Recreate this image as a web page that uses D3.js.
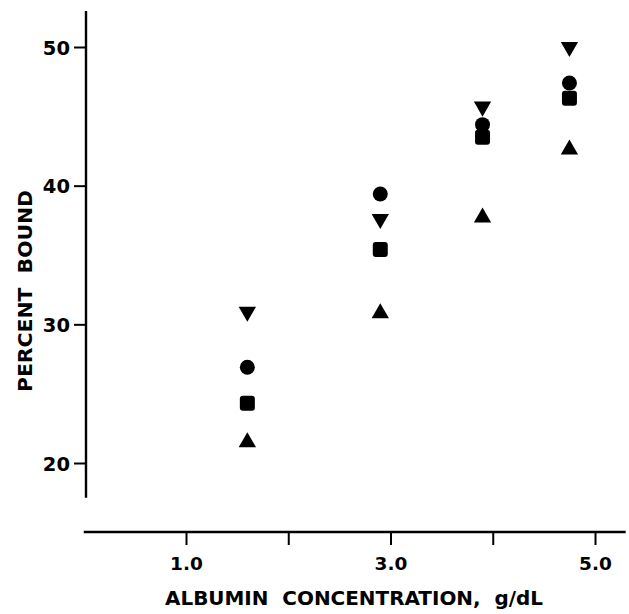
<!DOCTYPE html>
<html>
<head>
<meta charset="utf-8">
<script src="https://cdn.jsdelivr.net/npm/d3@7"></script>
<style>
  html, body { margin: 0; padding: 0; background: #fff; }
  svg { display: block; }
  text { font-family: "DejaVu Sans", sans-serif; font-weight: bold; fill: #000; }
</style>
</head>
<body>
<svg id="chart" width="629" height="614"></svg>
<script>
// Albumin concentration (g/dL) at which binding was measured
const albumin = [1.6, 2.9, 3.9, 4.75];

// Percent bound, one array per plotted symbol
const circleSeries = [26.9, 39.4, 44.4, 47.4];
const downTriangleSeries = [30.9, 37.6, 45.7, 50.0];
const squareSeries = [24.3, 35.4, 43.5, 46.3];
const upTriangleSeries = [21.5, 30.8, 37.7, 42.6];

// Axis ticks
const xTicks = [1, 2, 3, 4, 5];
const xTickLabels = ["1.0", "", "3.0", "", "5.0"];
const yTicks = [20, 30, 40, 50];

const xTitle = "ALBUMIN  CONCENTRATION,  g/dL";
const yTitle = "PERCENT  BOUND";

const svg = d3.select("#chart");

const x = d3.scaleLinear().domain([1, 5]).range([186, 595]);
const y = d3.scaleLinear().domain([20, 50]).range([463, 47]);

// axis extents in data units
const xLineDomain = [0.0, 5.3];
const yLineDomain = [17.5, 52.6];
const yAxisX = 86;
const xAxisY = 532;

// Y axis
const yAxis = d3.axisLeft(y).tickValues(yTicks).tickSize(12).tickPadding(4)
  .tickFormat(d3.format("d"));
const gy = svg.append("g").attr("transform", `translate(${yAxisX},0)`).call(yAxis);
gy.select(".domain").remove();
gy.selectAll(".tick line").attr("stroke", "#000").attr("stroke-width", 2);
gy.selectAll(".tick text").style("font-size", "19.5px").attr("dy", "0.36em");
svg.append("line")
  .attr("x1", yAxisX).attr("x2", yAxisX)
  .attr("y1", y(yLineDomain[1])).attr("y2", y(yLineDomain[0]))
  .attr("stroke", "#000").attr("stroke-width", 2.4);

// X axis
const xAxis = d3.axisBottom(x).tickValues(xTicks).tickSize(13).tickPadding(12)
  .tickFormat((d, i) => xTickLabels[i]);
const gx = svg.append("g").attr("transform", `translate(0,${xAxisY})`).call(xAxis);
gx.select(".domain").remove();
gx.selectAll(".tick line").attr("stroke", "#000").attr("stroke-width", 2);
gx.selectAll(".tick text").style("font-size", "18.5px").attr("dy", "0.71em");
svg.append("line")
  .attr("x1", x(xLineDomain[0])).attr("x2", x(xLineDomain[1]))
  .attr("y1", xAxisY).attr("y2", xAxisY)
  .attr("stroke", "#000").attr("stroke-width", 2.4);

// Axis titles
svg.append("text")
  .attr("x", 165).attr("y", 605)
  .attr("textLength", 378).attr("lengthAdjust", "spacingAndGlyphs")
  .attr("xml:space", "preserve")
  .style("font-size", "20px")
  .text(xTitle);

svg.append("text")
  .attr("transform", "translate(32,392) rotate(-90)")
  .attr("textLength", 202).attr("lengthAdjust", "spacingAndGlyphs")
  .attr("xml:space", "preserve")
  .style("font-size", "20px")
  .text(yTitle);

// Markers
const marks = svg.append("g");

marks.selectAll("circle.pt")
  .data(albumin.map((a, i) => [a, circleSeries[i]]))
  .join("circle")
  .attr("class", "pt")
  .attr("cx", d => x(d[0])).attr("cy", d => y(d[1]))
  .attr("r", 7.5).attr("fill", "#000");

marks.selectAll("rect.pt")
  .data(albumin.map((a, i) => [a, squareSeries[i]]))
  .join("rect")
  .attr("class", "pt")
  .attr("x", d => x(d[0]) - 7.5).attr("y", d => y(d[1]) - 7.5)
  .attr("width", 15).attr("height", 15).attr("rx", 3)
  .attr("fill", "#000");

const tri = d3.symbol().type(d3.symbolTriangle).size(130);

marks.selectAll("path.up")
  .data(albumin.map((a, i) => [a, upTriangleSeries[i]]))
  .join("path")
  .attr("class", "up")
  .attr("d", tri)
  .attr("transform", d => `translate(${x(d[0])},${y(d[1])})`)
  .attr("fill", "#000");

marks.selectAll("path.down")
  .data(albumin.map((a, i) => [a, downTriangleSeries[i]]))
  .join("path")
  .attr("class", "down")
  .attr("d", tri)
  .attr("transform", d => `translate(${x(d[0])},${y(d[1])}) rotate(180)`)
  .attr("fill", "#000");
</script>
</body>
</html>
